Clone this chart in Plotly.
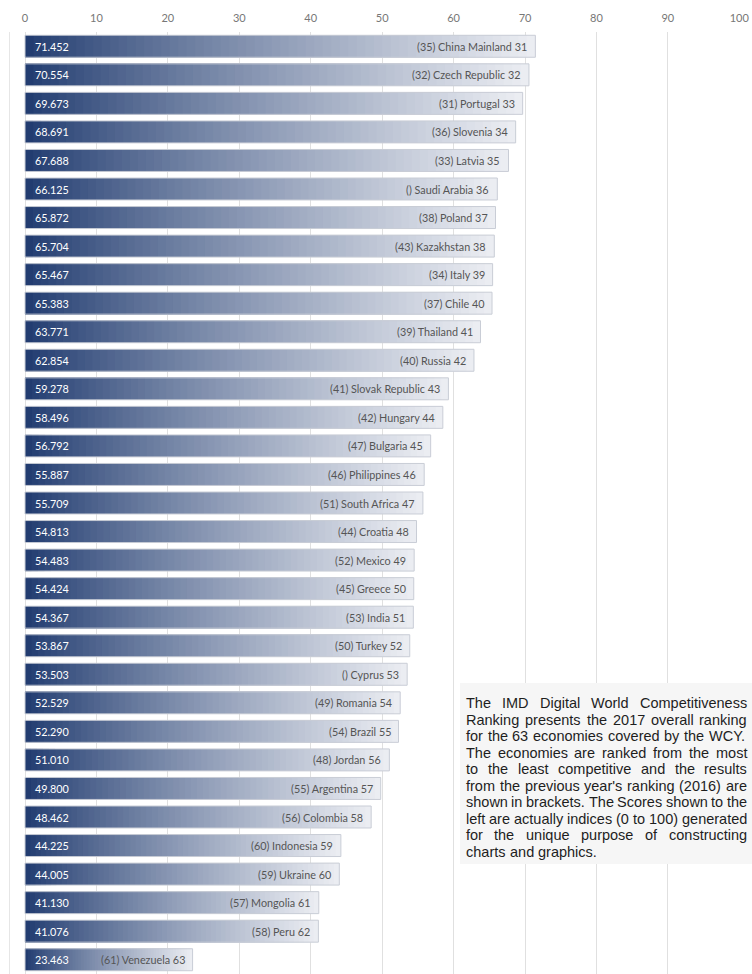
import plotly.graph_objects as go

# ---------------- data ----------------
countries = ["China Mainland", "Czech Republic", "Portugal", "Slovenia", "Latvia",
             "Saudi Arabia", "Poland", "Kazakhstan", "Italy", "Chile", "Thailand",
             "Russia", "Slovak Republic", "Hungary", "Bulgaria", "Philippines",
             "South Africa", "Croatia", "Mexico", "Greece", "India", "Turkey",
             "Cyprus", "Romania", "Brazil", "Jordan", "Argentina", "Colombia",
             "Indonesia", "Ukraine", "Mongolia", "Peru", "Venezuela"]
prev_rank = ["35", "32", "31", "36", "33", "", "38", "43", "34", "37", "39", "40",
             "41", "42", "47", "46", "51", "44", "52", "45", "53", "50", "", "49",
             "54", "48", "55", "56", "60", "59", "57", "58", "61"]
rank_2017 = list(range(31, 64))
scores = [71.452, 70.554, 69.673, 68.691, 67.688, 66.125, 65.872, 65.704, 65.467,
          65.383, 63.771, 62.854, 59.278, 58.496, 56.792, 55.887, 55.709, 54.813,
          54.483, 54.424, 54.367, 53.867, 53.503, 52.529, 52.290, 51.010, 49.800,
          48.462, 44.225, 44.005, 41.130, 41.076, 23.463]
x_ticks = [0, 10, 20, 30, 40, 50, 60, 70, 80, 90, 100]

note_lines = [
    "The IMD Digital World Competitiveness",
    "Ranking presents the 2017 overall ranking",
    "for the 63 economies covered by the WCY.",
    "The economies are ranked from the most",
    "to the least competitive and the results",
    "from the previous year's ranking (2016) are",
    "shown in brackets. The Scores shown to the",
    "left are actually indices (0 to 100) generated",
    "for the unique purpose of constructing",
    "charts and graphics.",
]

# ---------------- layout constants (page pixels) ----------------
W, H = 752, 974
PLOT_L, PLOT_R, PLOT_T, PLOT_B = 10, 740, 32, 974
ML, MR, MT, MB = PLOT_L, W - PLOT_R, PLOT_T, H - PLOT_B
XMIN, XMAX = -2.1, 100.1
n = len(scores)
ypos = list(range(n))

LABEL_FONT = "Lato, 'Open Sans', sans-serif"
DARK = (30, 57, 110)
LIGHT = (236, 238, 243)
NSEG = 60


def grad(t):
    t = t ** 0.85
    return "rgb({},{},{})".format(*[round(DARK[i] + (LIGHT[i] - DARK[i]) * t) for i in range(3)])


fig = go.Figure()

# gradient bars: overlay of progressively shorter, darker bars
for j in range(NSEG - 1, -1, -1):
    frac = (j + 1) / NSEG
    fig.add_trace(go.Bar(
        x=[s * frac for s in scores], y=ypos, orientation="h",
        marker=dict(color=grad((j + 0.5) / NSEG), line=dict(width=0)),
        hoverinfo="skip", showlegend=False,
    ))

# outline
fig.add_trace(go.Bar(
    x=scores, y=ypos, orientation="h",
    marker=dict(color="rgba(0,0,0,0)", line=dict(color="#c9cdd6", width=1)),
    hovertemplate="%{x}<extra></extra>", showlegend=False,
))

annotations = []
for i in range(n):
    annotations.append(dict(
        x=0, y=ypos[i], xref="x", yref="y", xanchor="left", yanchor="middle",
        xshift=8, text=f"{scores[i]:.3f}", showarrow=False,
        font=dict(family=LABEL_FONT, size=10.8, color="white"),
    ))
    annotations.append(dict(
        x=scores[i], y=ypos[i], xref="x", yref="y", xanchor="right", yanchor="middle",
        xshift=-6, text=f"({prev_rank[i]}) {countries[i]} {rank_2017[i]}", showarrow=False,
        font=dict(family=LABEL_FONT, size=10.8, color="#555555"),
    ))

# ---- justified note text (Arial / Liberation Sans metrics) ----
AW = {' ': 278, 'a': 556, 'b': 556, 'c': 500, 'd': 556, 'e': 556, 'f': 278, 'g': 556,
      'h': 556, 'i': 222, 'j': 222, 'k': 500, 'l': 222, 'm': 833, 'n': 556, 'o': 556,
      'p': 556, 'q': 556, 'r': 333, 's': 500, 't': 278, 'u': 556, 'v': 500, 'w': 722,
      'x': 500, 'y': 500, 'z': 500, 'A': 667, 'B': 667, 'C': 722, 'D': 722, 'E': 667,
      'F': 611, 'G': 778, 'H': 722, 'I': 278, 'M': 833, 'N': 722, 'O': 778, 'P': 667,
      'R': 722, 'S': 667, 'T': 611, 'W': 944, 'Y': 667, '.': 278, ',': 278, '(': 333,
      ')': 333, "'": 191}
for d in "0123456789":
    AW[d] = 556

NOTE_SIZE = 14.5
NOTE_LEFT, NOTE_RIGHT = 465, 746
NOTE_TOP = 703
NOTE_STEP = 16.5
pw = W - ML - MR
ph = H - MT - MB


def px2paper_x(px):
    return (px - ML) / pw


def px2paper_y(py):
    return 1 - (py - MT) / ph


def wwidth(word):
    return sum(AW.get(c, 556) for c in word) * NOTE_SIZE / 1000.0


shapes = [dict(type="rect", xref="paper", yref="paper",
               x0=px2paper_x(460), x1=px2paper_x(752), y0=px2paper_y(864), y1=px2paper_y(683),
               fillcolor="#f6f6f6", line=dict(width=0), layer="above")]

for li, line in enumerate(note_lines):
    yc = px2paper_y(NOTE_TOP + li * NOTE_STEP)
    words = line.split(" ")
    widths = [wwidth(w) for w in words]
    if li < len(note_lines) - 1 and len(words) > 1:
        gap = (NOTE_RIGHT - NOTE_LEFT - sum(widths)) / (len(words) - 1)
    else:
        gap = wwidth(" ")
    xcur = NOTE_LEFT
    for w, ww in zip(words, widths):
        annotations.append(dict(
            x=px2paper_x(xcur), y=yc, xref="paper", yref="paper",
            xanchor="left", yanchor="middle", text=w, showarrow=False,
            font=dict(family="Liberation Sans, Arial, sans-serif", size=NOTE_SIZE, color="#1e1e1e"),
            borderpad=0,
        ))
        xcur += ww + gap

fig.update_layout(
    width=W, height=H,
    margin=dict(l=ML, r=MR, t=MT, b=MB, pad=0),
    paper_bgcolor="white", plot_bgcolor="white",
    barmode="overlay", bargap=0.23,
    showlegend=False,
    xaxis=dict(side="top", range=[XMIN, XMAX], tickvals=x_ticks,
               ticktext=[str(v) for v in x_ticks],
               showgrid=True, gridcolor="#e0e0e0", gridwidth=1, zeroline=False,
               tickfont=dict(family=LABEL_FONT, size=11, color="#777777"),
               ticklabelstandoff=7,
               ticks="", showline=False, fixedrange=True),
    yaxis=dict(range=[n - 0.5, -0.5], showticklabels=False, showgrid=False,
               zeroline=False, showline=True, linecolor="#e6e6e6", linewidth=1,
               ticks="", fixedrange=True),
    annotations=annotations,
    shapes=shapes,
)

# remove the default page margin so the 752x974 figure fills the window exactly
post = ("document.documentElement.style.margin='0';"
        "document.body.style.margin='0';"
        "document.documentElement.style.overflow='hidden';"
        "document.body.style.overflow='hidden';")
fig.write_html("out.html", post_script=post, config={"displayModeBar": False})
